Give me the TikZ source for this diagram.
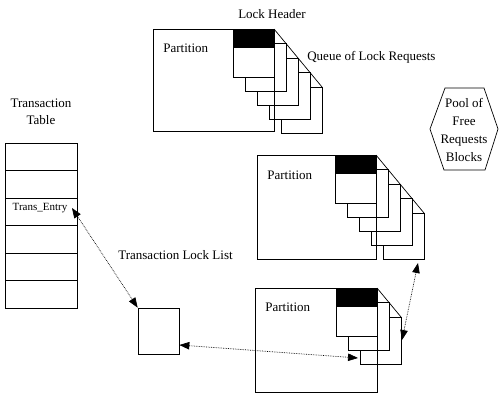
\documentclass[tikz,border=0pt]{standalone}
\usepackage{fontspec}
\setmainfont{Liberation Serif}
\usetikzlibrary{arrows.meta}
\tikzset{
  lbl/.style={font=\fontsize{13}{16}\selectfont, inner sep=0pt},
  cell/.style={draw, minimum width=72pt, minimum height=27.5pt, inner sep=0pt, outer sep=0pt},
  link/.style={densely dotted, line width=0.7pt, {Triangle[length=10pt,width=7.5pt]}-{Triangle[length=10pt,width=7.5pt]}},
  box/.style={draw, fill=white, line width=0.7pt}
}
% #1 header right x, #2 top y, #3 list of back boxes (descending), #4 last index, #5 partition left x, #6 partition bottom y
\newcommand\lockq[6]{%
  \foreach \k in {#3} {
    \draw[box] ({#1-41+12*\k},{#2+14.5*\k}) rectangle ({#1+12*\k},{#2+48+14*\k});
  }
  \draw[box] (#1-41,#2) rectangle (#1,#2+48);
  \fill[black] (#1-41,#2) rectangle (#1,#2+19);
  \draw[line width=0.7pt] (#1,#2) -- ({#1+12*#4},{#2+14.5*#4});
  \draw[line width=0.7pt] (#5,#2) rectangle (#1,#6);
}
\begin{document}
\begin{tikzpicture}[x=1pt,y=-1pt,line width=0.7pt]
\useasboundingbox (0,0) rectangle (503,394);

% labels
\node[lbl] (lh) at (272,14) {Lock Header};
\node[lbl,anchor=west] (ql) at (307,57) {Queue of Lock Requests};
\node[lbl,align=center,font=\fontsize{13}{17}\selectfont] (tt) at (41,112) {Transaction\\Table};
\node[lbl,anchor=west] (tll) at (118,255) {Transaction Lock List};

% top lock header
\lockq{274}{29}{4,3,2,1}{4}{153}{131}
\node[lbl,anchor=west] (p1) at (163,48) {Partition};

% middle
\lockq{376}{155}{4,3,2,1}{4}{257}{259}
\node[lbl,anchor=west] (p2) at (267,175) {Partition};

% bottom
\lockq{377}{288}{2,1}{2}{255}{392}
\node[lbl,anchor=west] (p3) at (265,307) {Partition};

% transaction table
\node[cell] (r1) at (41,156.75) {};
\node[cell] (r2) at (41,184.25) {};
\node[cell] (r3) at (41,211.75) {};
\node[cell] (r4) at (41,239.25) {};
\node[cell] (r5) at (41,266.75) {};
\node[cell] (r6) at (41,294.25) {};
\node[font=\fontsize{11}{13}\selectfont, inner sep=0pt] (te) at (40,208) {Trans\_Entry};

% transaction lock list box
\node[draw, minimum width=41pt, minimum height=46pt, inner sep=0pt] (ll) at (158.5,331) {};

% pool hexagon
\node[align=center, font=\fontsize{13}{18}\selectfont, inner sep=0pt] (pool) at (464,130) {Pool of\\Free\\Requests\\Blocks};
\draw (445,88) -- (484,88) -- (498,129) -- (485,170) -- (444,170) -- (430,129) -- cycle;

% connector end points
\coordinate (teend) at (72,208);
\coordinate (b3l) at (358,358);
\coordinate (m5b) at (418,263);
\coordinate (b3r) at (402,340);

\draw[link] (teend) -- (ll.north west);
\draw[link] ([yshift=-14pt]ll.east) -- (b3l);
\draw[link] (m5b) -- (b3r);
\end{tikzpicture}
\end{document}
